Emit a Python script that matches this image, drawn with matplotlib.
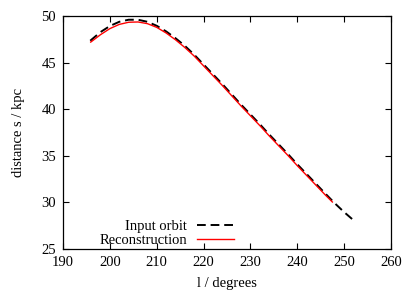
import matplotlib
matplotlib.use('Agg')
import matplotlib.pyplot as plt

# input orbit (black dashed)
l_input = [195.8, 198, 200, 202, 204, 206, 208, 210, 212, 214, 216, 218, 220,
           222, 224, 226, 228, 230, 232, 234, 236, 238, 240, 242, 244, 246,
           248, 250, 252]
s_input = [47.35, 48.28, 48.93, 49.38, 49.6, 49.6, 49.38, 48.95, 48.35, 47.62,
           46.8, 45.85, 44.8, 43.75, 42.7, 41.6, 40.5, 39.45, 38.4, 37.3,
           36.25, 35.2, 34.1, 33.05, 32.0, 30.95, 29.92, 28.97, 28.1]

# reconstruction (red)
l_recon = [195.9, 198, 200, 202, 204, 206, 208, 210, 212, 214, 216, 218, 220,
           222, 224, 226, 228, 230, 232, 234, 236, 238, 240, 242, 244, 246,
           247.5]
s_recon = [47.2, 48.0, 48.65, 49.1, 49.33, 49.36, 49.18, 48.78, 48.18, 47.45,
           46.62, 45.7, 44.65, 43.6, 42.55, 41.45, 40.35, 39.3, 38.25, 37.15,
           36.1, 35.05, 33.95, 32.9, 31.85, 30.8, 30.05]

plt.rcParams['font.family'] = ['Liberation Serif', 'DejaVu Serif']
plt.rcParams['font.size'] = 10.5

fig = plt.figure(figsize=(4.15, 2.91), dpi=100)
ax = fig.add_axes([0.152, 0.144, 0.79, 0.801])

ax.plot(l_input, s_input, color='black', lw=1.4, dashes=(4.5, 2.5),
        label='Input orbit')
ax.plot(l_recon, s_recon, color='red', lw=1.0, label='Reconstruction')

ax.set_xlim(190, 260)
ax.set_ylim(25, 50)
ax.set_xticks(range(190, 261, 10))
ax.set_yticks(range(25, 51, 5))
ax.tick_params(direction='in', top=True, right=True, length=4, width=0.8,
               pad=5)
for sp in ax.spines.values():
    sp.set_linewidth(0.9)

ax.set_xlabel('l / degrees', labelpad=6)
ax.set_ylabel('distance s / kpc', labelpad=12)

ax.legend(loc='lower left', bbox_to_anchor=(0.08, -0.035), frameon=False,
          markerfirst=False, alignment='right', handlelength=2.5,
          handletextpad=0.7, labelspacing=0.05, borderpad=0.2)

fig.savefig('out.png', dpi=100)
